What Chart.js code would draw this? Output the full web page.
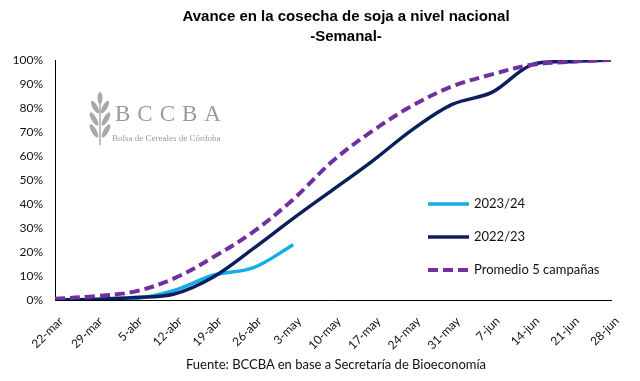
<!DOCTYPE html>
<html><head><meta charset="utf-8">
<script src="https://cdn.jsdelivr.net/npm/chart.js@4.4.1/dist/chart.umd.min.js"></script>
<style>
html,body{margin:0;padding:0;background:#fff;}
#wrap{position:relative;width:640px;height:381px;overflow:hidden;font-family:Lato,"Liberation Sans",sans-serif;}
canvas{position:absolute;left:0;top:0;}
.title{position:absolute;left:0;width:692px;text-align:center;font-family:"Liberation Sans",Arial,sans-serif;font-weight:bold;font-size:15px;color:#000;}
#src{position:absolute;left:0;width:672px;top:356px;text-align:center;font-size:13px;color:#111;}
#legend{position:absolute;left:428px;top:195px;font-size:13px;color:#111;}
.li{position:relative;height:33px;}
.li span{position:absolute;left:46px;top:0;white-space:nowrap;}
.li svg{position:absolute;left:0;top:3px;}
#logo{position:absolute;left:88px;top:92px;color:#9a9a9a;font-family:"Liberation Serif","DejaVu Serif",serif;}
</style></head>
<body>
<div id="wrap">
<canvas id="c" width="640" height="381"></canvas>
<div class="title" style="top:7px">Avance en la cosecha de soja a nivel nacional</div>
<div class="title" style="top:27px">-Semanal-</div>
<div id="logo">
 <svg width="24" height="54" style="position:absolute;left:0;top:0px" viewBox="0 0 24 54">
  <g fill="#a8a8a8">
   <path d="M12 53 L12 4" stroke="#a8a8a8" stroke-width="1.5"/>
   <ellipse cx="12" cy="6" rx="2.5" ry="6"/>
   <ellipse cx="7" cy="15" rx="2.5" ry="7" transform="rotate(-30 7 15)"/>
   <ellipse cx="17" cy="15" rx="2.5" ry="7" transform="rotate(30 17 15)"/>
   <ellipse cx="6" cy="27" rx="2.5" ry="7.5" transform="rotate(-30 6 27)"/>
   <ellipse cx="18" cy="27" rx="2.5" ry="7.5" transform="rotate(30 18 27)"/>
   <ellipse cx="6" cy="39" rx="2.5" ry="7.5" transform="rotate(-30 6 39)"/>
   <ellipse cx="18" cy="39" rx="2.5" ry="7.5" transform="rotate(30 18 39)"/>
  </g>
 </svg>
 <div style="position:absolute;left:27px;top:9px;font-size:23px;letter-spacing:7px;white-space:nowrap;">BCCBA</div>
 <div style="position:absolute;left:24px;top:41px;font-size:9px;white-space:nowrap;">Bolsa de Cereales de Córdoba</div>
</div>
<div id="legend"></div>
<div id="src">Fuente: BCCBA en base a Secretaría de Bioeconomía</div>
</div>
<script>
const categories = ["22-mar","29-mar","5-abr","12-abr","19-abr","26-abr","3-may","10-may","17-may","24-may","31-may","7-jun","14-jun","21-jun","28-jun"];
const s2023_24 = [0, 0, 0.5, 4, 10.4, 13.5, 23, null, null, null, null, null, null, null, null];
const s2022_23 = [0, 0.3, 1, 2.5, 9.7, 21.5, 34, 46, 58, 71, 81.5, 86.5, 98, 99.3, 100];
const sPromedio = [0.5, 1.6, 3.5, 9, 18, 28.5, 42, 58, 70.5, 81, 89, 94, 98, 99.3, 100];
const seriesNames = ["2023/24", "2022/23", "Promedio 5 campañas"];
const yTicks = [0,10,20,30,40,50,60,70,80,90,100];

const colors = ["#12aee8", "#0b1f5c", "#7030a0"];
const dashes = [[], [], [10,5]];

const datasets = [s2023_24, s2022_23, sPromedio].map((d,i)=>({
  label: seriesNames[i],
  data: d,
  borderColor: colors[i],
  backgroundColor: colors[i],
  borderWidth: i===2 ? 4 : 3.5,
  borderDash: dashes[i],
  pointRadius: 0,
  tension: 0.35,
  spanGaps: false,
  order: [2,1,0][i]
}));

new Chart(document.getElementById('c'), {
  type: 'line',
  data: { labels: categories, datasets },
  options: {
    responsive: false,
    animation: false,
    layout: { padding: { top: 60, right: 29, left: 0, bottom: 0 } },
    plugins: { legend: { display: false }, title: { display: false }, tooltip: { enabled: false } },
    scales: {
      x: {
        offset: false,
        grid: { display: false, drawTicks: false },
        border: { display: true, color: '#000', width: 1 },
        ticks: { maxRotation: 45, minRotation: 45, autoSkip: false, padding: 14, labelOffset: 6,
                 color: '#111', font: { family: 'Lato, "Liberation Sans", sans-serif', size: 12 } },
        afterFit: s => { s.height = 81; }
      },
      y: {
        min: 0, max: 100,
        afterBuildTicks: s => { s.ticks = yTicks.map(v=>({value:v})); },
        grid: { display: false, drawTicks: false },
        border: { display: true, color: '#000', width: 1 },
        ticks: { padding: 12, color: '#111', callback: v => v + '%',
                 font: { family: 'Lato, "Liberation Sans", sans-serif', size: 12 } },
        afterFit: s => { s.width = 55; }
      }
    }
  }
});

const lg = document.getElementById('legend');
seriesNames.forEach((n,i)=>{
  const div = document.createElement('div'); div.className='li';
  const dash = dashes[i].length ? `stroke-dasharray="${dashes[i].join(' ')}"` : '';
  div.innerHTML = `<svg width="42" height="12"><line x1="0" y1="6" x2="41" y2="6" stroke="${colors[i]}" stroke-width="${i===2?4:3.5}" ${dash}/></svg><span>${n}</span>`;
  lg.appendChild(div);
});
</script>
</body></html>
